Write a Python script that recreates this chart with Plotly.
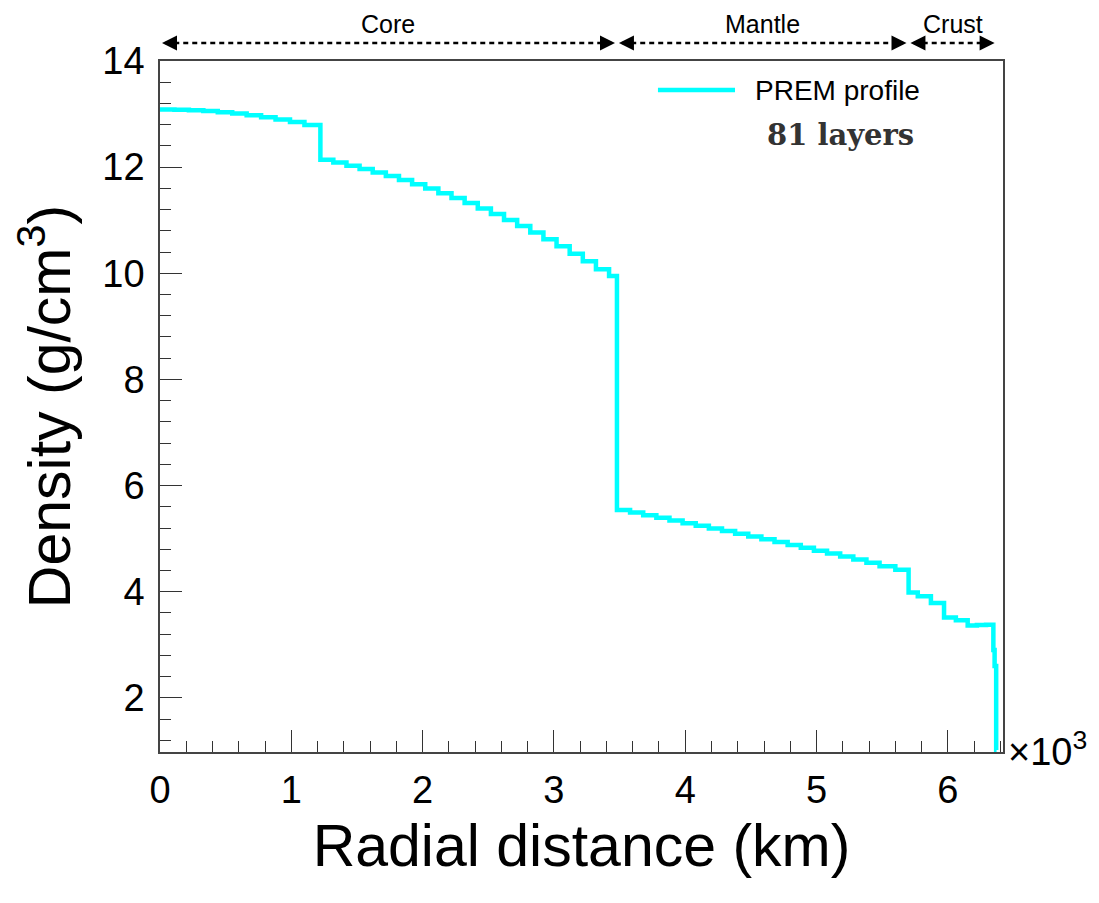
import plotly.graph_objects as go

# Layer start radii (km) and layer densities (g/cm^3)
layer_start_km = [
    # inner core
    0, 110, 220, 330, 440, 550, 660, 770, 880, 990, 1100,
    # outer core
    1221.5, 1320, 1420, 1520, 1620, 1720, 1820, 1920, 2020, 2120, 2220, 2320,
    2420, 2520, 2620, 2720, 2820, 2920, 3020, 3120, 3220, 3320, 3420,
    # lower mantle
    3480, 3580, 3680, 3780, 3880, 3980, 4080, 4180, 4280, 4380, 4480,
    4580, 4680, 4780, 4880, 4980, 5080, 5180, 5280, 5380, 5480, 5600,
    # transition zone / upper mantle
    5701, 5771, 5871, 5971, 6061, 6151, 6221, 6291,
    # crust / ocean
    6346.6, 6356, 6368,
]
layer_density = [
    13.088, 13.083, 13.072, 13.056, 13.035, 13.009, 12.977, 12.940, 12.898, 12.851, 12.795,
    12.141, 12.086, 12.028, 11.966, 11.900, 11.831, 11.757, 11.679, 11.597, 11.510, 11.419, 11.323,
    11.222, 11.116, 11.005, 10.889, 10.768, 10.641, 10.508, 10.370, 10.226, 10.076, 9.951,
    5.542, 5.492, 5.442, 5.392, 5.342, 5.292, 5.242, 5.192, 5.142, 5.091, 5.039,
    4.987, 4.935, 4.882, 4.828, 4.773, 4.718, 4.662, 4.605, 4.546, 4.480, 4.412,
    3.984, 3.913, 3.787, 3.516, 3.463, 3.363, 3.371, 3.378,
    2.9, 2.6, 1.02,
]
earth_radius_km = 6371

x_tick_vals = [0, 1000, 2000, 3000, 4000, 5000, 6000]
x_tick_text = ["0", "1", "2", "3", "4", "5", "6"]
y_tick_vals = [2, 4, 6, 8, 10, 12, 14]

regions = ["Core", "Mantle", "Crust"]
region_bounds_km = [(0, 3480), (3480, 5700), (5700, 6371)]

# step line: repeat last density at the surface radius
xs = layer_start_km + [earth_radius_km]
ys = layer_density + [layer_density[-1]]

fig = go.Figure()
fig.add_trace(go.Scatter(
    x=xs, y=ys, mode="lines", line=dict(color="#00FFFF", width=4.5, shape="hv"),
    name="PREM profile", showlegend=False,
))

font_main = "Liberation Sans, Arial, Helvetica, sans-serif"

fig.update_layout(
    width=1091, height=895,
    margin=dict(l=152, r=96, t=53, b=151),
    plot_bgcolor="white", paper_bgcolor="white",
    font=dict(family=font_main, color="black"),
    xaxis=dict(
        range=[0, 6420], tickvals=x_tick_vals, ticktext=x_tick_text,
        ticks="inside", ticklen=22, tickwidth=1, tickcolor="#333",
        minor=dict(dtick=200, tick0=0, ticks="inside", ticklen=11, tickcolor="#333", tickwidth=1),
        showline=True, linecolor="#444", linewidth=1.5, mirror=True,
        showgrid=False, zeroline=False,
        tickfont=dict(size=38, family=font_main), ticklabelstandoff=4,
        title=dict(text="Radial distance (km)", font=dict(size=59, family=font_main), standoff=14),
    ),
    yaxis=dict(
        range=[0.98, 14], tickvals=y_tick_vals,
        ticks="inside", ticklen=22, tickwidth=1, tickcolor="#333",
        minor=dict(dtick=0.4, tick0=0, ticks="inside", ticklen=11, tickcolor="#333", tickwidth=1),
        showline=True, linecolor="#444", linewidth=1.5, mirror=True,
        showgrid=False, zeroline=False,
        tickfont=dict(size=38, family=font_main), ticklabelstandoff=6,
        title=dict(text="Density (g/cm<sup>3</sup>)", font=dict(size=59, family=font_main), standoff=18),
    ),
)

shapes = []
annotations = []
arrow_y = 1.026
for name, (a, b) in zip(regions, region_bounds_km):
    shapes.append(dict(type="line", xref="x", yref="paper", x0=a + 40, x1=b - 40,
                       y0=arrow_y, y1=arrow_y, line=dict(color="black", width=2.5, dash="5px,4px")))
    annotations.append(dict(x=a + 15, y=arrow_y, xref="x", yref="paper", text="", showarrow=True,
                            ax=12, ay=0, arrowhead=2, arrowsize=1.2, arrowwidth=2.5, arrowcolor="black"))
    annotations.append(dict(x=b - 15, y=arrow_y, xref="x", yref="paper", text="", showarrow=True,
                            ax=-12, ay=0, arrowhead=2, arrowsize=1.2, arrowwidth=2.5, arrowcolor="black"))
    annotations.append(dict(x=(a + b) / 2, y=1.0535, xref="x", yref="paper", text=name, showarrow=False,
                            font=dict(size=25, family=font_main, color="black"), yanchor="middle"))

# manual legend
shapes.append(dict(type="line", xref="paper", yref="paper", x0=0.5907, x1=0.6821, y0=0.958, y1=0.958,
                   line=dict(color="#00FFFF", width=4.5)))
annotations.append(dict(x=0.7034, y=0.958, xref="paper", yref="paper", text="PREM profile",
                        showarrow=False, xanchor="left", yanchor="middle",
                        font=dict(size=28, family=font_main, color="black")))
annotations.append(dict(x=0.8078, y=0.8929, xref="paper", yref="paper", text="<b>81 layers</b>",
                        showarrow=False, xanchor="center", yanchor="middle",
                        font=dict(size=29, family="DejaVu Serif, serif", color="#333")))
# exponent label
annotations.append(dict(x=1.003, y=0.005, xref="paper", yref="paper", text="×10<sup>3</sup>",
                        showarrow=False, xanchor="left", yanchor="middle",
                        font=dict(size=38, family=font_main, color="black")))

fig.update_layout(shapes=shapes, annotations=annotations)
fig.write_html("out.html")
